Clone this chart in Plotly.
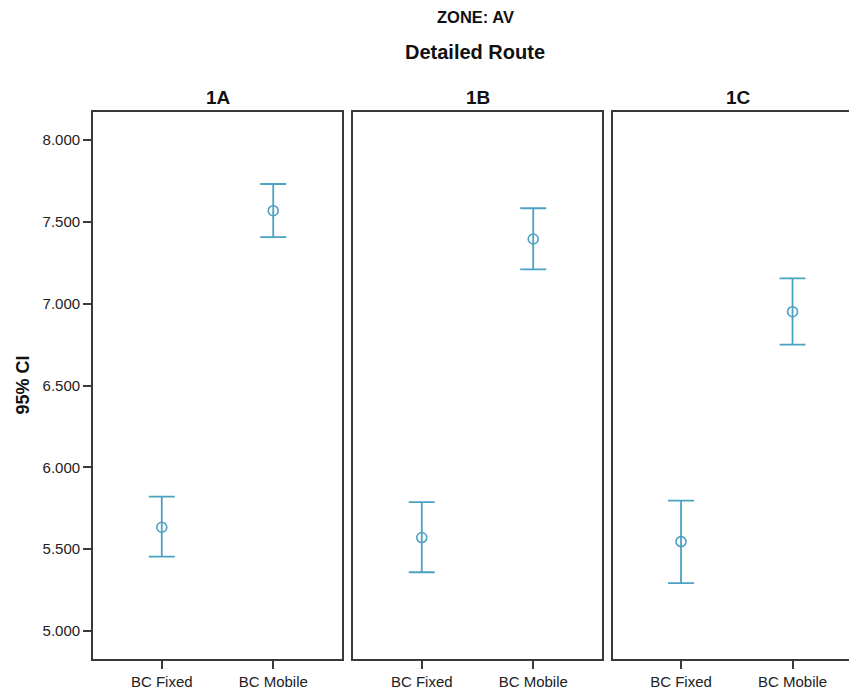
import plotly.graph_objects as go

panels = ["1A", "1B", "1C"]
categories = ["BC Fixed", "BC Mobile"]
means = {"1A": [5.634, 7.568], "1B": [5.571, 7.395], "1C": [5.546, 6.951]}
upper = {"1A": [5.821, 7.731], "1B": [5.787, 7.583], "1C": [5.797, 7.155]}
lower = {"1A": [5.455, 7.406], "1B": [5.359, 7.210], "1C": [5.292, 6.750]}
ytick_vals = [5.0, 5.5, 6.0, 6.5, 7.0, 7.5, 8.0]
ytick_text = ["5.000", "5.500", "6.000", "6.500", "7.000", "7.500", "8.000"]

COLOR = "#4ba2c2"
LINE = "#3a3a3a"
FONT = "Liberation Sans, Arial, sans-serif"

fig = go.Figure()
W = 764.0
domains = [[0, 249 / W], [260 / W, 509 / W], [520 / W, 1.0]]
xranges = [[-0.617, 1.617], [-0.617, 1.617], [-0.610, 1.578]]

for i, p in enumerate(panels):
    m = means[p]
    ep = [u - v for u, v in zip(upper[p], m)]
    em = [v - l for v, l in zip(m, lower[p])]
    sfx = "" if i == 0 else str(i + 1)
    fig.add_trace(go.Scatter(
        x=categories, y=m, mode="markers",
        marker=dict(symbol="circle-open", size=10, color=COLOR, line=dict(width=1.6, color=COLOR)),
        error_y=dict(type="data", symmetric=False, array=ep, arrayminus=em,
                     color=COLOR, thickness=1.8, width=13),
        xaxis="x" + sfx, yaxis="y" + sfx, showlegend=False,
    ))
    xa = dict(domain=domains[i], range=xranges[i], type="category",
              categoryorder="array", categoryarray=categories,
              showline=True, mirror=True, linecolor=LINE, linewidth=1.7,
              ticks="outside", ticklen=8, tickwidth=1.7, tickcolor=LINE,
              showgrid=False, zeroline=False,
              tickfont=dict(family=FONT, size=15, color="#222"),
              anchor="y" + sfx, fixedrange=True)
    ya = dict(domain=[0, 1], range=[4.829, 8.171],
              showline=True, mirror=(i < 2), linecolor=LINE, linewidth=1.7,
              showgrid=False, zeroline=False, anchor="x" + sfx,
              tickvals=ytick_vals, ticktext=ytick_text,
              showticklabels=(i == 0), ticks="outside" if i == 0 else "",
              ticklen=8, tickwidth=1.7, tickcolor=LINE,
              tickfont=dict(family=FONT, size=15, color="#222"), fixedrange=True)
    if i > 0:
        ya["matches"] = "y"
    fig.layout["xaxis" + sfx] = xa
    fig.layout["yaxis" + sfx] = ya

annotations = [
    dict(text="<b>ZONE: AV</b>", x=0.5, y=(659 - 17) / 547, font=dict(size=16.5)),
    dict(text="<b>Detailed Route</b>", x=0.5, y=(659 - 52) / 547, font=dict(size=20)),
]
centers = [(218 - 93) / W, (478 - 93) / W, (738 - 93) / W]
for p, c in zip(panels, centers):
    annotations.append(dict(text="<b>%s</b>" % p, x=c, y=(659 - 97) / 547, font=dict(size=19)))
annotations.append(dict(text="<b>95% CI</b>", x=-(93 - 22) / W, y=0.5, textangle=-90, font=dict(size=18)))
for a in annotations:
    a.update(xref="paper", yref="paper", showarrow=False, xanchor="center", yanchor="middle")
    a["font"].update(family=FONT, color="#111")

# page body has an 8px default margin, so the figure is sized to fit the 857x690 window
fig.update_layout(
    width=849, height=682,
    margin=dict(l=85, r=0, t=104, b=31),
    paper_bgcolor="white", plot_bgcolor="white",
    annotations=annotations,
)
fig.write_html("out.html")
